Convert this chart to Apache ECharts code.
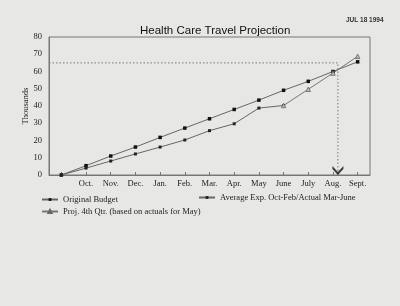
<!DOCTYPE html>
<html>
<head>
<meta charset="utf-8">
<script src="https://cdn.jsdelivr.net/npm/echarts@6/dist/echarts.min.js"></script>
<style>
  html, body { margin: 0; padding: 0; background: #e7e7e5; }
  #chart { width: 400px; height: 306px; }
</style>
</head>
<body>
<div id="chart"></div>
<script>
// months (first slot is the starting point, unlabeled)
const months = ['', 'Oct.', 'Nov.', 'Dec.', 'Jan.', 'Feb.', 'Mar.', 'Apr.', 'May', 'June', 'July', 'Aug.', 'Sept.'];

const originalBudget = [0, 5.4, 11.0, 16.2, 21.8, 27.2, 32.6, 38.0, 43.4, 49.1, 54.3, 60.0, 65.6];
const averageExp = [0, 4.0, 8.1, 12.2, 16.2, 20.3, 25.7, 29.7, 38.8, 40.3, null, null, null];
const projection = [null, null, null, null, null, null, null, null, null, 40.3, 49.7, 59.1, 68.8];

const yTicks = { min: 0, max: 80, step: 10 };

// dotted reference: budget level and the month position it points to
const refLevel = 65;
const refMonth = 11.2;

const chart = echarts.init(document.getElementById('chart'));

const serif = 'Liberation Serif';
const legendText = { fontFamily: serif, fontSize: 8.5, color: '#222' };

chart.setOption({
  backgroundColor: '#e7e7e5',
  animation: false,
  title: {
    text: 'Health Care Travel Projection',
    left: 135,
    top: 20,
    textStyle: { fontFamily: 'Liberation Sans', fontSize: 11.5, fontWeight: 'normal', color: '#111' }
  },
  graphic: [
    {
      type: 'text', left: 346, top: 17,
      style: { text: 'JUL 18 1994', fontFamily: 'Liberation Sans', fontSize: 6.5, fontWeight: 'bold', fill: '#333' }
    },
    {
      type: 'text', rotation: Math.PI / 2,
      style: { text: 'Thousands', fontFamily: serif, fontSize: 8.5, fill: '#222', align: 'center', verticalAlign: 'middle' },
      x: 26, y: 106
    }
  ],
  legend: [
    {
      data: ['Original Budget'], left: 36, top: 190, itemWidth: 16, itemHeight: 3.5, itemGap: 4,
      textStyle: legendText
    },
    {
      data: ['Average Exp. Oct-Feb/Actual Mar-June'], left: 193, top: 188, itemWidth: 16, itemHeight: 3.5,
      textStyle: legendText
    },
    {
      data: ['Proj. 4th Qtr. (based on actuals for May)'], left: 36, top: 202, itemWidth: 16, itemHeight: 4,
      textStyle: legendText
    }
  ],
  grid: {
    left: 49, right: 30, top: 37, bottom: 131,
    show: true, borderColor: '#777', borderWidth: 1, backgroundColor: 'transparent'
  },
  xAxis: [
    {
      type: 'category',
      data: months,
      boundaryGap: true,
      axisLine: { lineStyle: { color: '#777' } },
      axisTick: { show: true, inside: true, alignWithLabel: true, length: 3, lineStyle: { color: '#777' } },
      axisLabel: { fontFamily: serif, fontSize: 8.5, color: '#222', margin: 4, interval: 0 },
      splitLine: { show: false }
    },
    {
      type: 'value', min: -0.5, max: 12.5, show: false, position: 'bottom'
    }
  ],
  yAxis: {
    type: 'value',
    min: yTicks.min, max: yTicks.max, interval: yTicks.step,
    axisLine: { show: true, onZero: false, lineStyle: { color: '#777' } },
    axisTick: { show: false },
    axisLabel: { fontFamily: serif, fontSize: 8.5, color: '#222', margin: 7 },
    splitLine: { show: false }
  },
  series: [
    {
      name: 'Original Budget',
      type: 'line',
      data: originalBudget,
      symbol: 'rect', symbolSize: 3.5,
      itemStyle: { color: '#111' },
      lineStyle: { color: '#666', width: 1 }
    },
    {
      name: 'Average Exp. Oct-Feb/Actual Mar-June',
      type: 'line',
      data: averageExp,
      symbol: 'rect', symbolSize: 3,
      itemStyle: { color: '#222' },
      lineStyle: { color: '#666', width: 1 }
    },
    {
      name: 'Proj. 4th Qtr. (based on actuals for May)',
      type: 'line',
      data: projection,
      symbol: 'triangle', symbolSize: 4.5,
      itemStyle: { color: '#bbb', borderColor: '#666', borderWidth: 0.8 },
      lineStyle: { color: '#777', width: 1 }
    },
    {
      type: 'line',
      xAxisIndex: 1,
      silent: true,
      symbol: 'none',
      data: [[-0.5, refLevel], [refMonth, refLevel], [refMonth, 0]],
      lineStyle: { color: '#777', width: 1, type: [1.5, 2] },
      z: 1
    },
    {
      type: 'scatter',
      xAxisIndex: 1,
      silent: true,
      data: [[refMonth, 0]],
      symbol: 'path://M0,0 L5,6 L10,0 L10,3 L5,9 L0,3 Z',
      symbolSize: [11, 9],
      symbolOffset: [0, '-50%'],
      itemStyle: { color: '#111' },
      z: 5
    }
  ]
});
</script>
</body>
</html>
